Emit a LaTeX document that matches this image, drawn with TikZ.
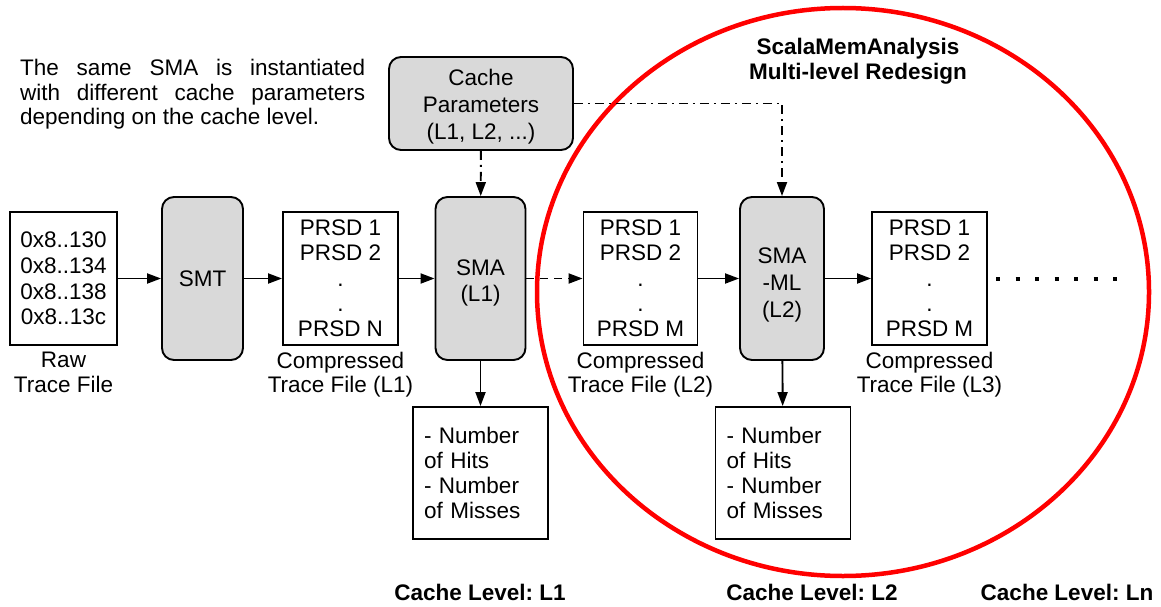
\documentclass[tikz,border=0pt]{standalone}
\usepackage{fontspec}
\setmainfont{Liberation Sans}
\usetikzlibrary{arrows.meta,positioning}
\definecolor{procgray}{HTML}{D9D9D9}
\hyphenpenalty=10000
\exhyphenpenalty=10000
\frenchspacing
\begin{document}
\begin{tikzpicture}[x=1pt,y=-1pt,
  every node/.style={font=\fontsize{22.5}{25.3}\selectfont},
  filebox/.style={draw, line width=1.9pt, minimum width=115pt, minimum height=133pt, align=center, inner sep=0pt},
  proc/.style={draw, line width=1.9pt, fill=procgray, rounded corners=12pt, minimum height=163pt, inner sep=0pt},
  inlabel/.style={align=center, inner sep=0pt},
  resbox/.style={draw, line width=1.9pt, minimum height=132pt, text width=113pt, inner xsep=11pt, inner ysep=0pt, align=left},
  caption/.style={align=center, inner sep=0pt, font=\fontsize{22.5}{24.5}\selectfont},
  lvl/.style={font=\fontsize{22.5}{26}\selectfont\bfseries, inner sep=0pt},
  conn/.style={line width=1.9pt, -{Triangle[length=14pt,width=10pt]}},
  dconn/.style={conn, dash pattern=on 8pt off 6pt},
  ddconn/.style={conn, dash pattern=on 9pt off 5pt on 2pt off 5pt},
]
\useasboundingbox (0,0) rectangle (1161,607);

% red ellipse
\draw[red, line width=4.5pt] (843,292) ellipse [x radius=306pt, y radius=284pt];

% note
\node[anchor=north west, text width=345pt, align=justify, inner sep=0pt, font=\fontsize{22.5}{24.5}\selectfont] (note) at (20,59)
  {The same SMA is instantiated with different cache parameters depending on the cache level.};

% title
\node[align=center, inner sep=0pt, font=\fontsize{22.5}{25.5}\selectfont\bfseries] (title) at (858,61)
  {ScalaMemAnalysis\\Multi-level Redesign};

% cache parameters
\node[draw, line width=1.9pt, fill=procgray, rounded corners=12pt, minimum width=184pt, minimum height=93pt, inner sep=0pt,
  label={[inlabel, yshift=-3.5pt, font=\fontsize{22.5}{27}\selectfont]center:Cache\\Parameters\\(L1, L2, ...)}] (params) at (481,103.5) {};

% main row
\node[filebox, minimum width=107pt, font=\fontsize{22.5}{25.7}\selectfont] (raw) at (63.5,278.5)
  {0x8..130\\0x8..134\\0x8..138\\0x8..13c};
\node[proc, minimum width=81pt] (smt) at (202.5,278.5) {SMT};
\node[filebox] (c1) at (340.5,278.5) {PRSD 1\\PRSD 2\\.\\.\\PRSD N};
\node[proc, minimum width=90pt,
  label={[inlabel, yshift=-4pt, font=\fontsize{22.5}{26}\selectfont]center:SMA\\(L1)}] (sma1) at (480.5,278.5) {};
\node[filebox, minimum width=114pt] (c2) at (640.5,278.5) {PRSD 1\\PRSD 2\\.\\.\\PRSD M};
\node[proc, minimum width=84pt,
  label={[inlabel, yshift=-6pt, font=\fontsize{22.5}{27}\selectfont]center:SMA\\-ML\\(L2)}] (sma2) at (782,278.5) {};
\node[filebox] (c3) at (929.5,278.5) {PRSD 1\\PRSD 2\\.\\.\\PRSD M};

% captions
\node[caption, below=6pt of raw] (capraw) {Raw\\Trace File};
\node[caption, below=6pt of c1] (capc1) {Compressed\\Trace File (L1)};
\node[caption, below=6pt of c2] (capc2) {Compressed\\Trace File (L2)};
\node[caption, below=6pt of c3] (capc3) {Compressed\\Trace File (L3)};

% result boxes
\node[resbox] (r1) at (480.5,473) {- Number\\of Hits\\- Number\\of Misses};
\node[resbox] (r2) at (783,473) {- Number\\of Hits\\- Number\\of Misses};

% cache levels
\node[lvl] (lv1) at (480,592) {Cache Level: L1};
\node[lvl] (lv2) at (812,592) {Cache Level: L2};
\node[lvl] (lvn) at (1067,592) {Cache Level: Ln};

% connectors
\draw[conn] (raw) -- (smt);
\draw[conn] (smt) -- (c1);
\draw[conn] (c1) -- (sma1);
\draw[dconn] (sma1) -- (c2);
\draw[conn] (c2) -- (sma2);
\draw[conn] (sma2) -- (c3);
\draw[conn] (sma1) -- (r1);
\draw[conn] (sma2) -- (r2);
\draw[ddconn] (params) -- (sma1);
\draw[ddconn] (params.east) -| (sma2.north);

% trailing dots
\coordinate (dotsA) at (996,279);
\coordinate (dotsB) at (1118,279);
\draw[line width=4pt, dash pattern=on 4pt off 15.5pt] (dotsA) -- (dotsB);
\end{tikzpicture}
\end{document}
